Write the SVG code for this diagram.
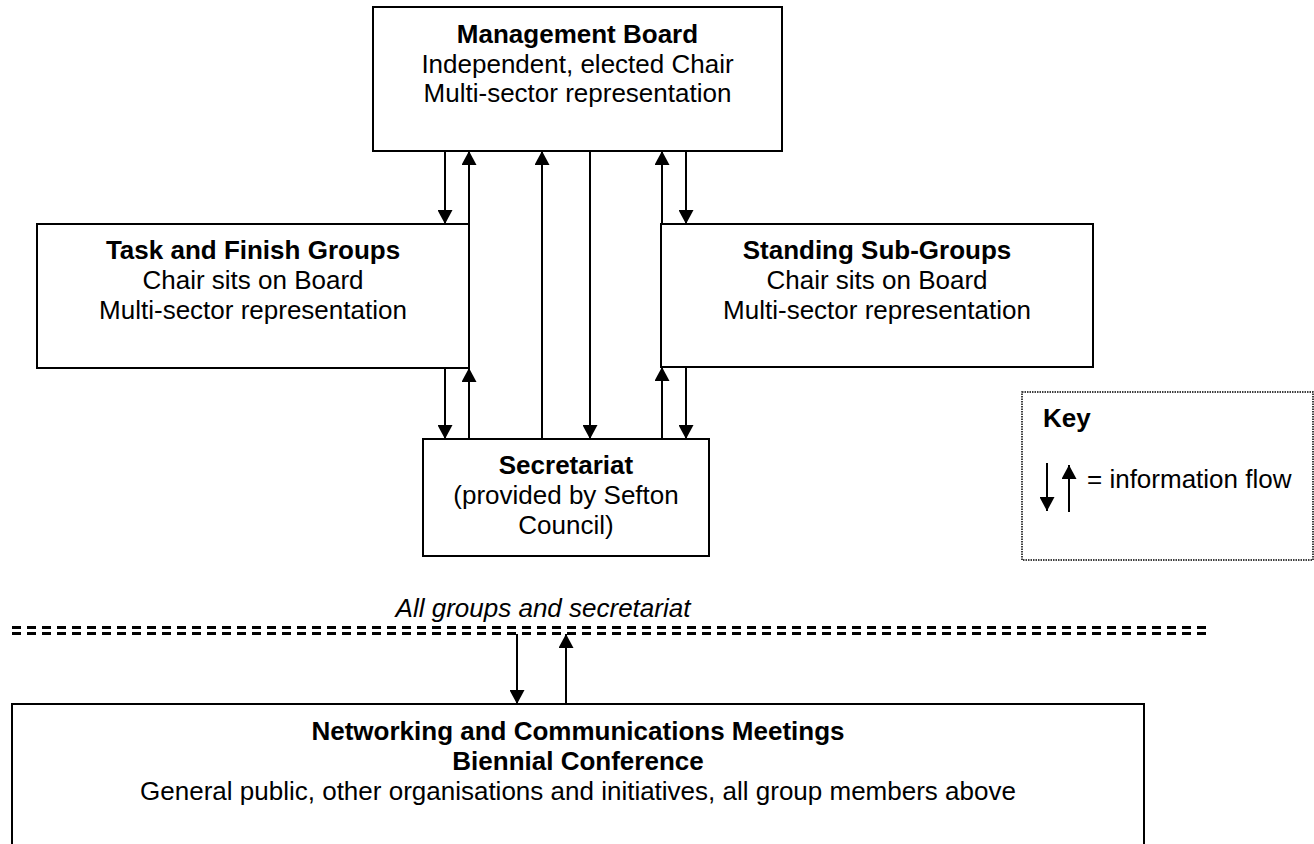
<svg xmlns="http://www.w3.org/2000/svg" width="1314" height="844" viewBox="0 0 1314 844">
<style>
.box{fill:#fff;stroke:#000;stroke-width:2}
.t{font-family:"Liberation Sans",Arial,sans-serif;font-size:26px;fill:#000;text-anchor:middle}
.b{font-weight:bold}
.c{stroke:#000;stroke-width:2;fill:none}
.a{marker-end:url(#ah)}
.dash{stroke:#000;stroke-width:3;stroke-dasharray:9 6;fill:none;shape-rendering:crispEdges}
</style>
<defs>
<marker id="ah" markerUnits="userSpaceOnUse" markerWidth="15" markerHeight="15" refX="14" refY="7.5" orient="auto" viewBox="0 0 15 15">
<path d="M0,0 L14,7.5 L0,15 z" fill="#000"/>
</marker>
</defs>
<rect width="1314" height="844" fill="#fff"/>

<g id="management-board">
<rect class="box" x="373" y="7" width="409" height="144"/>
<text class="t b" x="577.5" y="43">Management Board</text>
<text class="t" x="577.5" y="73">Independent, elected Chair</text>
<text class="t" x="577.5" y="102">Multi-sector representation</text>
</g>

<g id="task-finish">
<rect class="box" x="37" y="224" width="432" height="144"/>
<text class="t b" x="253" y="259">Task and Finish Groups</text>
<text class="t" x="253" y="289">Chair sits on Board</text>
<text class="t" x="253" y="319">Multi-sector representation</text>
</g>

<g id="standing-sub-groups">
<rect class="box" x="661" y="224" width="432" height="143"/>
<text class="t b" x="877" y="259">Standing Sub-Groups</text>
<text class="t" x="877" y="289">Chair sits on Board</text>
<text class="t" x="877" y="319">Multi-sector representation</text>
</g>

<g id="secretariat">
<rect class="box" x="423" y="439" width="286" height="117"/>
<text class="t b" x="566" y="474">Secretariat</text>
<text class="t" x="566" y="504">(provided by Sefton</text>
<text class="t" x="566" y="534">Council)</text>
</g>

<g id="key">
<rect x="1022" y="392" width="291" height="168" fill="#fff" stroke="#000" stroke-width="1.5" stroke-dasharray="1.5 1"/>
<text class="t b" x="1043" y="427" style="text-anchor:start">Key</text>
<line class="c a" x1="1047" y1="463" x2="1047" y2="511"/>
<line class="c a" x1="1069" y1="512" x2="1069" y2="465"/>
<text class="t" x="1087" y="488" style="text-anchor:start">= information flow</text>
</g>

<g id="all-groups-divider">
<text class="t" x="543" y="617" style="font-style:italic">All groups and secretariat</text>
<line class="dash" x1="12" y1="627.5" x2="1206" y2="627.5"/>
<line class="dash" x1="12" y1="633.5" x2="1206" y2="633.5"/>
</g>

<g id="networking">
<rect class="box" x="12" y="704" width="1132" height="150"/>
<text class="t b" x="578" y="740">Networking and Communications Meetings</text>
<text class="t b" x="578" y="770">Biennial Conference</text>
<text class="t" x="578" y="800">General public, other organisations and initiatives, all group members above</text>
</g>

<g id="connectors">
<line class="c a" x1="445" y1="151" x2="445" y2="224"/>
<line class="c a" x1="469" y1="224" x2="469" y2="151"/>
<line class="c a" x1="542" y1="439" x2="542" y2="151"/>
<line class="c a" x1="590" y1="151" x2="590" y2="439"/>
<line class="c a" x1="662" y1="224" x2="662" y2="151"/>
<line class="c a" x1="686" y1="151" x2="686" y2="224"/>
<line class="c a" x1="445" y1="368" x2="445" y2="439"/>
<line class="c a" x1="469" y1="439" x2="469" y2="368"/>
<line class="c a" x1="662" y1="439" x2="662" y2="367"/>
<line class="c a" x1="686" y1="367" x2="686" y2="439"/>
<line class="c a" x1="517" y1="634" x2="517" y2="704"/>
<line class="c a" x1="566" y1="704" x2="566" y2="634"/>
</g>
</svg>
